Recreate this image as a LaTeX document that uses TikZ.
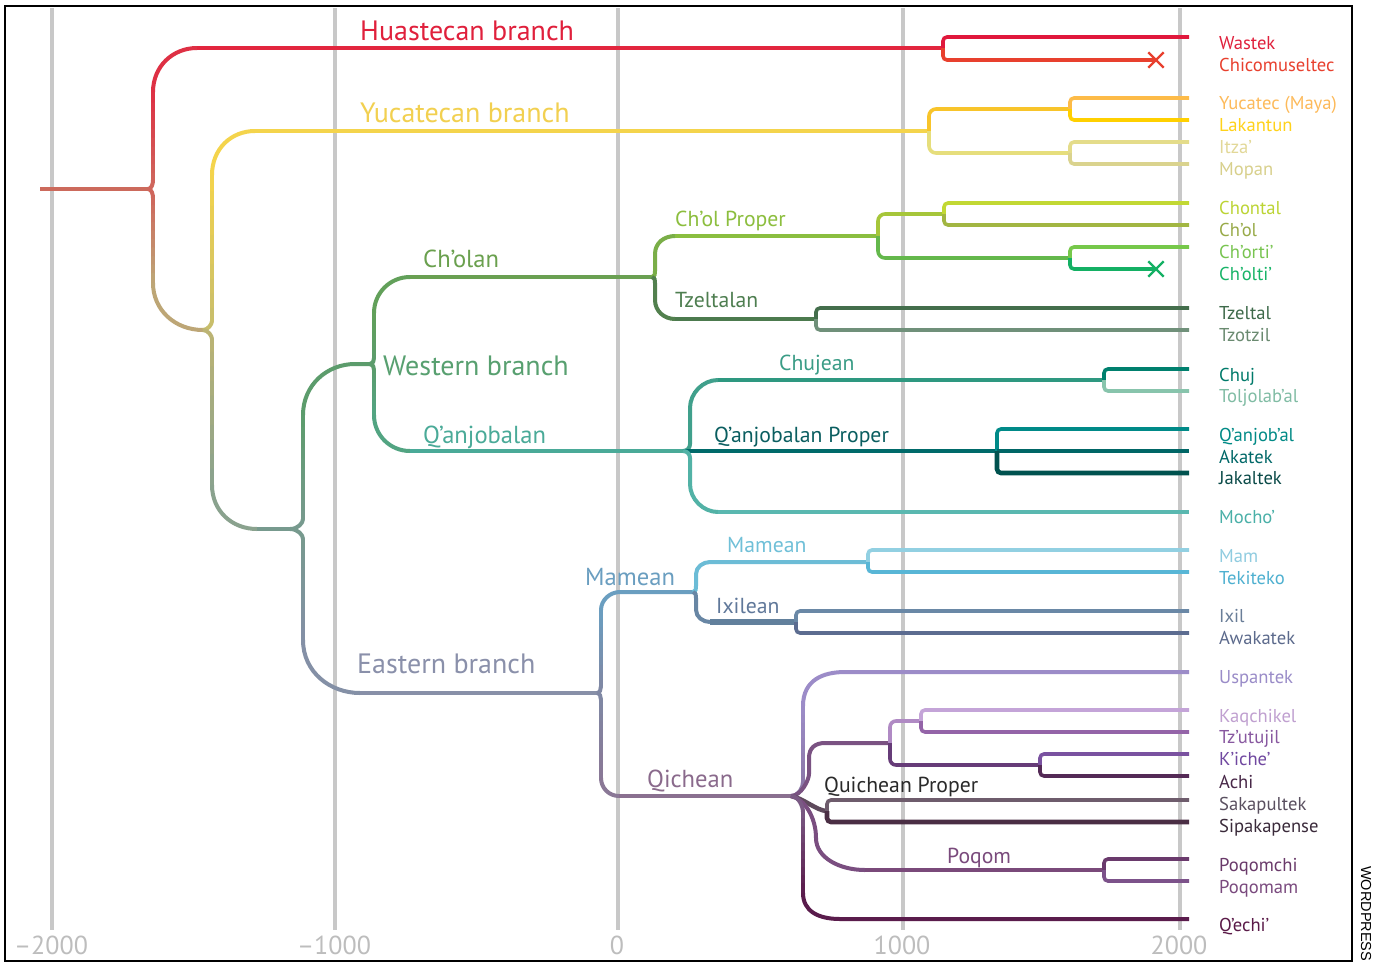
\documentclass[tikz,border=0pt]{standalone}
\usepackage{fontspec}
\setmainfont{PT Sans}
\newfontfamily\wpfont{Liberation Sans}
\usetikzlibrary{calc,shapes.misc}
% colours
\definecolor{gridgray}{HTML}{C8C8C8}
\definecolor{axisgray}{HTML}{BDBDBD}
\definecolor{cRootStem}{HTML}{CC6A5C}
\definecolor{cRootCusp}{HTML}{CF665C}
\definecolor{cHuaArm}{HTML}{DE3044}
\definecolor{cHua}{HTML}{E2263E}
\definecolor{cRootLow}{HTML}{BDA676}
\definecolor{cWastek}{HTML}{E0183C}
\definecolor{cChic}{HTML}{E8402E}
\definecolor{cYucCusp}{HTML}{C8BE6C}
\definecolor{cYuc}{HTML}{F4D44C}
\definecolor{cYucA}{HTML}{F8C42A}
\definecolor{cYucB}{HTML}{E6DE7C}
\definecolor{cYucatec}{HTML}{FDBB48}
\definecolor{cLakantun}{HTML}{FFD000}
\definecolor{cItza}{HTML}{E4DC8A}
\definecolor{cMopan}{HTML}{DAD38E}
\definecolor{cYucCusp2}{HTML}{BCB474}
\definecolor{cYucLow}{HTML}{8AA28E}
\definecolor{cEWstem}{HTML}{779A8E}
\definecolor{cWesArm}{HTML}{5C9C6C}
\definecolor{cWesArmT}{HTML}{62A05A}
\definecolor{cCholan}{HTML}{6AA052}
\definecolor{cWesArmB}{HTML}{52A482}
\definecolor{cQan}{HTML}{4AAA98}
\definecolor{cCPArm}{HTML}{7AAE48}
\definecolor{cCP}{HTML}{8ABE40}
\definecolor{cChn}{HTML}{A6C63A}
\definecolor{cCht}{HTML}{64B84C}
\definecolor{cChontal}{HTML}{C2D834}
\definecolor{cChol}{HTML}{A2B642}
\definecolor{cChorti}{HTML}{76C84A}
\definecolor{cCholti}{HTML}{14B064}
\definecolor{cTzArm}{HTML}{52804E}
\definecolor{cTz}{HTML}{4C7A4E}
\definecolor{cTzeltal}{HTML}{446E4C}
\definecolor{cTzotzil}{HTML}{70907A}
\definecolor{cChuArm}{HTML}{40A08C}
\definecolor{cChujean}{HTML}{2E9880}
\definecolor{cChuj}{HTML}{00806E}
\definecolor{cTolj}{HTML}{88C4AC}
\definecolor{cQP}{HTML}{006A6A}
\definecolor{cQanjobal}{HTML}{008A88}
\definecolor{cAkatek}{HTML}{006666}
\definecolor{cJakaltek}{HTML}{00524F}
\definecolor{cMochoArm}{HTML}{52B2A6}
\definecolor{cMocho}{HTML}{5AB8B0}
\definecolor{cEasArm}{HTML}{8490A6}
\definecolor{cEas}{HTML}{8890A8}
\definecolor{cEasCusp}{HTML}{8088A4}
\definecolor{cMamean}{HTML}{6A9EC0}
\definecolor{cQicArm}{HTML}{8A7896}
\definecolor{cQichean}{HTML}{8A7090}
\definecolor{cMamS}{HTML}{6CBCD6}
\definecolor{cIxArm}{HTML}{6886A4}
\definecolor{cIxilean}{HTML}{62809C}
\definecolor{cMam}{HTML}{92D0E2}
\definecolor{cTekiteko}{HTML}{58B6D6}
\definecolor{cIxil}{HTML}{6A88A6}
\definecolor{cAwakatek}{HTML}{5C6C90}
\definecolor{cQicArm2}{HTML}{8C78A8}
\definecolor{cUsp}{HTML}{9C8CC8}
\definecolor{cQPrArm}{HTML}{7A5282}
\definecolor{cKT}{HTML}{B08AC4}
\definecolor{cKA}{HTML}{663C78}
\definecolor{cKaq}{HTML}{C4A4D8}
\definecolor{cTzu}{HTML}{9464A8}
\definecolor{cKiche}{HTML}{7A52A0}
\definecolor{cAchi}{HTML}{542A56}
\definecolor{cSakArm}{HTML}{5E4A5C}
\definecolor{cSak}{HTML}{6E5C6C}
\definecolor{cSip}{HTML}{4A2E44}
\definecolor{cPoqArm}{HTML}{7A4E80}
\definecolor{cPoqom}{HTML}{7A4A7A}
\definecolor{cPoqomchi}{HTML}{6A3A6C}
\definecolor{cPoqomam}{HTML}{7C528A}
\definecolor{cQicArm3}{HTML}{7A5A84}
\definecolor{cQechi}{HTML}{5A1C4C}
% label colours
\definecolor{tHua}{HTML}{E0203C}
\definecolor{tYuc}{HTML}{F2D050}
\definecolor{tCholan}{HTML}{6AA04E}
\definecolor{tCP}{HTML}{8CBE3E}
\definecolor{tTz}{HTML}{4E7E50}
\definecolor{tWes}{HTML}{58A070}
\definecolor{tQan}{HTML}{4AAA98}
\definecolor{tChu}{HTML}{3A9C86}
\definecolor{tQP}{HTML}{0A5E60}
\definecolor{tMam}{HTML}{6A9EC0}
\definecolor{tMamS}{HTML}{70C0D8}
\definecolor{tIx}{HTML}{60789A}
\definecolor{tEas}{HTML}{8A90AA}
\definecolor{tQic}{HTML}{8A6A8C}
\definecolor{tQPr}{HTML}{2A2A2A}
\definecolor{tPoq}{HTML}{7A4A7C}
\definecolor{tWastek}{HTML}{E0203C}
\definecolor{tChic}{HTML}{E8402E}
\definecolor{tYucatec}{HTML}{FDBA5A}
\definecolor{tLakantun}{HTML}{FFD21A}
\definecolor{tItza}{HTML}{E2D898}
\definecolor{tMopan}{HTML}{D8D08C}
\definecolor{tChontal}{HTML}{BCD434}
\definecolor{tChol}{HTML}{98AA48}
\definecolor{tChorti}{HTML}{78C450}
\definecolor{tCholti}{HTML}{18B468}
\definecolor{tTzeltal}{HTML}{3E6A4A}
\definecolor{tTzotzil}{HTML}{6A8A70}
\definecolor{tChuj}{HTML}{007A6A}
\definecolor{tTolj}{HTML}{80BCA4}
\definecolor{tQanjobal}{HTML}{008A86}
\definecolor{tAkatek}{HTML}{006868}
\definecolor{tJakaltek}{HTML}{0A4A48}
\definecolor{tMocho}{HTML}{4AB0A8}
\definecolor{tMam2}{HTML}{90CCE0}
\definecolor{tTekiteko}{HTML}{4EB0D0}
\definecolor{tIxil}{HTML}{6A7E98}
\definecolor{tAwakatek}{HTML}{5C6A8C}
\definecolor{tUsp}{HTML}{9A8CC8}
\definecolor{tKaq}{HTML}{C0A0D0}
\definecolor{tTzu}{HTML}{8858A0}
\definecolor{tKiche}{HTML}{7048A0}
\definecolor{tAchi}{HTML}{482848}
\definecolor{tSak}{HTML}{5A5060}
\definecolor{tSip}{HTML}{3A2A3A}
\definecolor{tPoqomchi}{HTML}{6A3A6A}
\definecolor{tPoqomam}{HTML}{7A4A7E}
\definecolor{tQechi}{HTML}{5A1A48}
% gradient segment between two named coordinates
\newcommand\gradseg[4]{%
  \foreach \gi in {0,...,9}{%
    \pgfmathtruncatemacro\gp{10*\gi+5}%
    \pgfmathsetmacro\ga{\gi/10}%
    \pgfmathsetmacro\gb{(\gi+1)/10}%
    \draw[br, line cap=round, color=#4!\gp!#3] ($(#1)!\ga!(#2)$) -- ($(#1)!\gb!(#2)$);
  }}
\begin{document}
\begin{tikzpicture}[x=1pt,y=-1pt,
  br/.style={line width=4pt, line cap=butt, line join=round},
  lf/.style={line width=3.6pt, line cap=butt, rounded corners=4pt},
  thk/.style={line width=4.6pt},
  gridln/.style={draw=gridgray, line width=4pt},
  leaflbl/.style={anchor=base west, inner sep=0pt, font=\fontsize{18.6}{20}\selectfont},
  bigl/.style={anchor=base west, inner sep=0pt, font=\fontsize{28}{30}\selectfont},
  midl/.style={anchor=base west, inner sep=0pt, font=\fontsize{24.6}{27}\selectfont},
  smalll/.style={anchor=base west, inner sep=0pt, font=\fontsize{21.7}{24}\selectfont},
  axl/.style={anchor=base, inner sep=0pt, text=axisgray, font=\fontsize{26}{28}\selectfont},
  xm/.style={cross out, draw, line width=2.4pt, minimum size=13pt, inner sep=0pt},
]
\useasboundingbox (0,0) rectangle (1376,962);
\fill[white] (0,0) rectangle (1376,962);
% grid
\foreach \gx/\nm in {52/a,335/b,618/c,903/d,1180/e}{
  \coordinate (g\nm-top) at (\gx,8);
  \coordinate (g\nm-bot) at (\gx,930);
  \draw[gridln] (g\nm-top) -- (g\nm-bot);
}
\node[axl] (ax-a) at (51,954) {–2000};
\node[axl] (ax-b) at (334,954) {–1000};
\node[axl] (ax-c) at (617,954) {0};
\node[axl] (ax-d) at (902,954) {1000};
\node[axl] (ax-e) at (1179,954) {2000};
% frame
\draw[line width=2pt] (5,6) rectangle (1352,961);
\node[rotate=-90, anchor=base west, inner sep=0pt, font=\wpfont\fontsize{14.5}{16}\selectfont] (wp) at (1361,866) {WORDPRESS};

% ---------------- root ----------------
\coordinate (root-start) at (40,189);
\coordinate (root) at (148,189);
\draw[br, color=cRootStem] (root-start) -- (root);
\coordinate (rb-t1) at (153,180); \coordinate (rb-t2) at (153,92);
\coordinate (hua) at (197,48);
\draw[br, color=cRootCusp] (root) .. controls +(4,0) and +(0,3) .. (rb-t1);
\gradseg{rb-t1}{rb-t2}{cRootCusp}{cHuaArm}
\draw[br, color=cHuaArm] (rb-t2) .. controls +(0,-26) and +(-24,0) .. (hua);
\coordinate (hua-n) at (943,48);
\draw[br, color=cHua] (hua) -- (hua-n);
\coordinate (l-wastek) at (1189,37);
\draw[lf, color=cWastek] (hua-n) |- (l-wastek);
\node[xm, draw=cChic] (x-chic) at (1156,60) {};
\draw[lf, color=cChic] (hua-n) |- (x-chic.center);
% root lower arm
\coordinate (rb-b1) at (153,198); \coordinate (rb-b2) at (153,283);
\coordinate (yuc) at (203,330);
\draw[br, color=cRootCusp] (root) .. controls +(4,0) and +(0,-3) .. (rb-b1);
\gradseg{rb-b1}{rb-b2}{cRootCusp}{cRootLow}
\draw[br, color=cRootLow] (rb-b2) .. controls +(0,27) and +(-28,0) .. (yuc);

% ---------------- Yucatecan ----------------
\coordinate (yb-t1) at (212,321); \coordinate (yb-t2) at (212,175);
\coordinate (yuc-l) at (255,131); \coordinate (yuc-n) at (929,131);
\draw[br, color=cYucCusp] (yuc) .. controls +(5,0) and +(0,3) .. (yb-t1);
\gradseg{yb-t1}{yb-t2}{cYucCusp}{cYuc}
\draw[br, color=cYuc] (yb-t2) .. controls +(0,-26) and +(-24,0) .. (yuc-l);
\draw[br, color=cYuc] (yuc-l) -- (yuc-n);
\coordinate (yuc-a) at (1070,109); \coordinate (yuc-b) at (1070,153);
\draw[lf, rounded corners=7pt, color=cYucA] (yuc-n) |- (yuc-a);
\draw[lf, rounded corners=7pt, color=cYucB] (yuc-n) |- (yuc-b);
\coordinate (l-yucatec) at (1189,98); \coordinate (l-lakantun) at (1189,120);
\coordinate (l-itza) at (1189,142); \coordinate (l-mopan) at (1189,164);
\draw[lf, color=cYucatec] (yuc-a) |- (l-yucatec);
\draw[lf, color=cLakantun] (yuc-a) |- (l-lakantun);
\draw[lf, color=cItza] (yuc-b) |- (l-itza);
\draw[lf, color=cMopan] (yuc-b) |- (l-mopan);
% Yucatecan lower arm
\coordinate (yb-b1) at (212,339); \coordinate (yb-b2) at (212,485);
\coordinate (ew-l) at (257,529); \coordinate (ew) at (290,529);
\draw[br, color=cYucCusp2] (yuc) .. controls +(5,0) and +(0,-3) .. (yb-b1);
\gradseg{yb-b1}{yb-b2}{cYucCusp2}{cYucLow}
\draw[br, color=cYucLow] (yb-b2) .. controls +(0,26) and +(-25,0) .. (ew-l);
\draw[br, color=cEWstem] (ew-l) -- (ew);

% ---------------- East / West ----------------
\coordinate (ew-t1) at (303,519); \coordinate (ew-t2) at (303,415);
\coordinate (wes-l) at (355,364); \coordinate (wes) at (370,364);
\draw[br, color=cEWstem] (ew) .. controls +(8,0) and +(0,4) .. (ew-t1);
\gradseg{ew-t1}{ew-t2}{cEWstem}{cWesArm}
\draw[br, color=cWesArm] (ew-t2) .. controls +(0,-30) and +(-28,0) .. (wes-l) -- (wes);
\coordinate (ew-b1) at (303,539); \coordinate (ew-b2) at (303,640);
\coordinate (eas-l) at (360,693); \coordinate (eas) at (597,693);
\draw[br, color=cEWstem] (ew) .. controls +(8,0) and +(0,-4) .. (ew-b1);
\gradseg{ew-b1}{ew-b2}{cEWstem}{cEasArm}
\draw[br, color=cEasArm] (ew-b2) .. controls +(0,32) and +(-30,0) .. (eas-l);
\draw[br, color=cEas] (eas-l) -- (eas);

% ---------------- Western ----------------
\coordinate (wb-t1) at (374,358); \coordinate (wb-t2) at (374,313);
\coordinate (chl-l) at (410,277); \coordinate (chl) at (652,277);
\draw[br, color=cWesArm] (wes) .. controls +(3,0) and +(0,3) .. (wb-t1);
\gradseg{wb-t1}{wb-t2}{cWesArm}{cWesArmT}
\draw[br, color=cWesArmT] (wb-t2) .. controls +(0,-20) and +(-20,0) .. (chl-l);
\draw[br, color=cCholan] (chl-l) -- (chl);
\coordinate (wb-b1) at (374,370); \coordinate (wb-b2) at (374,415);
\coordinate (qan-l) at (410,451); \coordinate (qan) at (683,451);
\draw[br, color=cWesArm] (wes) .. controls +(3,0) and +(0,-3) .. (wb-b1);
\gradseg{wb-b1}{wb-b2}{cWesArm}{cWesArmB}
\draw[br, color=cWesArmB] (wb-b2) .. controls +(0,20) and +(-20,0) .. (qan-l);
\draw[br, color=cQan] (qan-l) -- (qan);

% Ch'olan
\coordinate (cp-l) at (675,236); \coordinate (cp) at (878,236);
\draw[br, color=cCPArm] (chl) .. controls +(3,0) and +(0,3) .. (655,271) -- (655,254) .. controls +(0,-11) and +(-11,0) .. (cp-l);
\draw[br, color=cCP] (cp-l) -- (cp);
\coordinate (tz-l) at (675,319); \coordinate (tz) at (816,319);
\draw[br, color=cTzArm] (chl) .. controls +(3,0) and +(0,-3) .. (655,283) -- (655,300) .. controls +(0,11) and +(-11,0) .. (tz-l);
\draw[br, color=cTz] (tz-l) -- (tz);
\coordinate (chn) at (944,214); \coordinate (cht) at (1070,258);
\draw[lf, rounded corners=7pt, color=cChn] (cp) |- (chn);
\draw[lf, rounded corners=7pt, color=cCht] (cp) |- (cht);
\coordinate (l-chontal) at (1189,203); \coordinate (l-chol) at (1189,225);
\coordinate (l-chorti) at (1189,247);
\draw[lf, color=cChontal] (chn) |- (l-chontal);
\draw[lf, color=cChol] (chn) |- (l-chol);
\draw[lf, color=cChorti] (cht) |- (l-chorti);
\node[xm, draw=cCholti] (x-cholti) at (1156,269) {};
\draw[lf, color=cCholti] (cht) |- (x-cholti.center);
\coordinate (l-tzeltal) at (1189,308); \coordinate (l-tzotzil) at (1189,330);
\draw[lf, color=cTzeltal] (tz) |- (l-tzeltal);
\draw[lf, color=cTzotzil] (tz) |- (l-tzotzil);

% Q'anjobalan
\coordinate (chu-l) at (718,380); \coordinate (chu) at (1104,380);
\draw[br, color=cChuArm] (qan) .. controls +(5,0) and +(0,3) .. (690,444) -- (690,408) .. controls +(0,-15) and +(-15,0) .. (chu-l);
\draw[br, color=cChujean] (chu-l) -- (chu);
\coordinate (qp) at (997,451);
\draw[br, color=cQP] (qan) -- (qp);
\coordinate (moc-l) at (718,512); \coordinate (l-mocho) at (1189,512);
\draw[br, color=cMochoArm] (qan) .. controls +(5,0) and +(0,-3) .. (690,458) -- (690,484) .. controls +(0,15) and +(-15,0) .. (moc-l);
\draw[lf, color=cMocho] (moc-l) -- (l-mocho);
\coordinate (l-chuj) at (1189,369); \coordinate (l-tolj) at (1189,391);
\draw[lf, color=cChuj] (chu) |- (l-chuj);
\draw[lf, color=cTolj] (chu) |- (l-tolj);
\coordinate (l-qanjobal) at (1189,429); \coordinate (l-akatek) at (1189,451); \coordinate (l-jakaltek) at (1189,473);
\draw[lf, color=cQanjobal] (qp) |- (l-qanjobal);
\draw[lf, thk, color=cAkatek] (qp) -- (l-akatek);
\draw[lf, thk, color=cJakaltek] (qp) |- (l-jakaltek);

% ---------------- Eastern ----------------
\coordinate (eb-t1) at (601,686); \coordinate (eb-t2) at (601,610);
\coordinate (mam-l) at (620,592); \coordinate (mam) at (693,592);
\draw[br, color=cEasCusp] (eas) .. controls +(3,0) and +(0,3) .. (eb-t1);
\gradseg{eb-t1}{eb-t2}{cEasCusp}{cMamean}
\draw[br, color=cMamean] (eb-t2) .. controls +(0,-10) and +(-10,0) .. (mam-l) -- (mam);
\coordinate (eb-b1) at (601,700); \coordinate (eb-b2) at (601,778);
\coordinate (qic-l) at (619,796); \coordinate (qic) at (791,796);
\draw[br, color=cEasCusp] (eas) .. controls +(3,0) and +(0,-3) .. (eb-b1);
\gradseg{eb-b1}{eb-b2}{cEasCusp}{cQicArm}
\draw[br, color=cQicArm] (eb-b2) .. controls +(0,10) and +(-10,0) .. (qic-l);
\draw[br, color=cQichean] (qic-l) -- (qic);

% Mamean
\coordinate (mams-l) at (710,562); \coordinate (mams) at (868,562);
\draw[br, color=cMamS] (mam) .. controls +(3,0) and +(0,3) .. (696,586) -- (696,574) .. controls +(0,-7) and +(-7,0) .. (mams-l) -- (mams);
\coordinate (ixl-l) at (710,622); \coordinate (ixl) at (796,622);
\draw[br, color=cIxArm] (mam) .. controls +(3,0) and +(0,-3) .. (696,598) -- (696,610) .. controls +(0,7) and +(-7,0) .. (ixl-l);
\draw[line width=6.5pt, color=cIxilean] (ixl-l) -- (ixl);
\coordinate (l-mam) at (1189,550); \coordinate (l-tekiteko) at (1189,572);
\draw[lf, color=cMam] (mams) |- (l-mam);
\draw[lf, color=cTekiteko] (mams) |- (l-tekiteko);
\coordinate (l-ixil) at (1189,611); \coordinate (l-awakatek) at (1189,633);
\draw[lf, color=cIxil] (ixl) |- (l-ixil);
\draw[lf, color=cAwakatek] (ixl) |- (l-awakatek);

% Qichean
\coordinate (usp-a) at (803,782); \coordinate (usp-b) at (803,706);
\coordinate (usp-l) at (845,672); \coordinate (l-usp) at (1189,672);
\draw[br, color=cQicArm2] (qic) .. controls +(8,0) and +(0,5) .. (usp-a);
\gradseg{usp-a}{usp-b}{cQicArm2}{cUsp}
\draw[br, color=cUsp] (usp-b) .. controls +(0,-26) and +(-22,0) .. (usp-l) -- (l-usp);
\coordinate (qpr-l) at (825,743); \coordinate (qpr) at (890,743);
\draw[br, color=cQPrArm] (qic) .. controls +(10,0) and +(0,6) .. (809,774) -- (809,758) .. controls +(0,-10) and +(-10,0) .. (qpr-l) -- (qpr);
\coordinate (kt) at (921,721); \coordinate (ka) at (1040,765);
\draw[lf, rounded corners=6pt, color=cKT] (qpr) |- (kt);
\draw[lf, rounded corners=6pt, color=cKA] (qpr) |- (ka);
\coordinate (l-kaq) at (1189,710); \coordinate (l-tzu) at (1189,732);
\coordinate (l-kiche) at (1189,754); \coordinate (l-achi) at (1189,776);
\draw[lf, color=cKaq] (kt) |- (l-kaq);
\draw[lf, color=cTzu] (kt) |- (l-tzu);
\draw[lf, color=cKiche] (ka) |- (l-kiche);
\draw[lf, color=cAchi] (ka) |- (l-achi);
\coordinate (sak) at (827,811);
\draw[br, line width=4.5pt, color=cSakArm] (qic) .. controls +(12,2) and +(-10,0) .. (sak);
\coordinate (l-sak) at (1189,800); \coordinate (l-sip) at (1189,822);
\draw[lf, color=cSak] (sak) |- (l-sak);
\draw[lf, thk, color=cSip] (sak) |- (l-sip);
\coordinate (poq-l) at (865,870); \coordinate (poq) at (1104,870);
\draw[br, color=cPoqArm] (qic) .. controls +(14,3) and +(0,-20) .. (816,838) .. controls +(0,20) and +(-25,0) .. (poq-l);
\draw[br, color=cPoqom] (poq-l) -- (poq);
\coordinate (l-poqomchi) at (1189,859); \coordinate (l-poqomam) at (1189,881);
\draw[lf, color=cPoqomchi] (poq) |- (l-poqomchi);
\draw[lf, color=cPoqomam] (poq) |- (l-poqomam);
\coordinate (qe-a) at (803,812); \coordinate (qe-b) at (803,893);
\coordinate (qe-l) at (840,919); \coordinate (l-qechi) at (1189,919);
\draw[br, color=cQicArm3] (qic) .. controls +(8,0) and +(0,-5) .. (qe-a);
\gradseg{qe-a}{qe-b}{cQicArm3}{cQechi}
\draw[br, color=cQechi] (qe-b) .. controls +(0,18) and +(-22,0) .. (qe-l) -- (l-qechi);

% ---------------- branch labels ----------------
\node[bigl, text=tHua] (n-hua) at (360,40) {Huastecan branch};
\node[bigl, text=tYuc] (n-yuc) at (360,122) {Yucatecan branch};
\node[midl, text=tCholan] (n-cholan) at (423,267) {Ch’olan};
\node[smalll, text=tCP] (n-cp) at (675,226) {Ch’ol Proper};
\node[smalll, text=tTz] (n-tz) at (675,307) {Tzeltalan};
\node[bigl, text=tWes] (n-wes) at (383,375) {Western branch};
\node[midl, text=tQan] (n-qan) at (423,443) {Q’anjobalan};
\node[smalll, text=tChu] (n-chu) at (779,370) {Chujean};
\node[smalll, text=tQP] (n-qp) at (714,442) {Q’anjobalan Proper};
\node[midl, text=tMam] (n-mam) at (585,585) {Mamean};
\node[smalll, text=tMamS] (n-mams) at (727,552) {Mamean};
\node[smalll, text=tIx] (n-ix) at (716,613) {Ixilean};
\node[bigl, text=tEas] (n-eas) at (357,673) {Eastern branch};
\node[midl, text=tQic] (n-qic) at (647,787) {Qichean};
\node[smalll, text=tQPr] (n-qpr) at (824,792) {Quichean Proper};
\node[smalll, text=tPoq] (n-poq) at (947,863) {Poqom};

% ---------------- leaf labels ----------------
\node[leaflbl, text=tWastek] (t-wastek) at (1219,49) {Wastek};
\node[leaflbl, text=tChic] (t-chic) at (1219,71) {Chicomuseltec};
\node[leaflbl, text=tYucatec] (t-yucatec) at (1219,109) {Yucatec (Maya)};
\node[leaflbl, text=tLakantun] (t-lakantun) at (1219,131) {Lakantun};
\node[leaflbl, text=tItza] (t-itza) at (1219,153) {Itza’};
\node[leaflbl, text=tMopan] (t-mopan) at (1219,175) {Mopan};
\node[leaflbl, text=tChontal] (t-chontal) at (1219,214) {Chontal};
\node[leaflbl, text=tChol] (t-chol) at (1219,236) {Ch’ol};
\node[leaflbl, text=tChorti] (t-chorti) at (1219,258) {Ch’orti’};
\node[leaflbl, text=tCholti] (t-cholti) at (1219,280) {Ch’olti’};
\node[leaflbl, text=tTzeltal] (t-tzeltal) at (1219,319) {Tzeltal};
\node[leaflbl, text=tTzotzil] (t-tzotzil) at (1219,341) {Tzotzil};
\node[leaflbl, text=tChuj] (t-chuj) at (1219,381) {Chuj};
\node[leaflbl, text=tTolj] (t-tolj) at (1219,402) {Toljolab’al};
\node[leaflbl, text=tQanjobal] (t-qanjobal) at (1219,441) {Q’anjob’al};
\node[leaflbl, text=tAkatek] (t-akatek) at (1219,463) {Akatek};
\node[leaflbl, text=tJakaltek] (t-jakaltek) at (1219,484) {Jakaltek};
\node[leaflbl, text=tMocho] (t-mocho) at (1219,523) {Mocho’};
\node[leaflbl, text=tMam2] (t-mam) at (1219,562) {Mam};
\node[leaflbl, text=tTekiteko] (t-tekiteko) at (1219,584) {Tekiteko};
\node[leaflbl, text=tIxil] (t-ixil) at (1219,622) {Ixil};
\node[leaflbl, text=tAwakatek] (t-awakatek) at (1219,644) {Awakatek};
\node[leaflbl, text=tUsp] (t-usp) at (1219,683) {Uspantek};
\node[leaflbl, text=tKaq] (t-kaq) at (1219,722) {Kaqchikel};
\node[leaflbl, text=tTzu] (t-tzu) at (1219,743) {Tz’utujil};
\node[leaflbl, text=tKiche] (t-kiche) at (1219,765) {K’iche’};
\node[leaflbl, text=tAchi] (t-achi) at (1219,788) {Achi};
\node[leaflbl, text=tSak] (t-sak) at (1219,810) {Sakapultek};
\node[leaflbl, text=tSip] (t-sip) at (1219,832) {Sipakapense};
\node[leaflbl, text=tPoqomchi] (t-poqomchi) at (1219,871) {Poqomchi};
\node[leaflbl, text=tPoqomam] (t-poqomam) at (1219,893) {Poqomam};
\node[leaflbl, text=tQechi] (t-qechi) at (1219,931) {Q’echi’};
\end{tikzpicture}
\end{document}
